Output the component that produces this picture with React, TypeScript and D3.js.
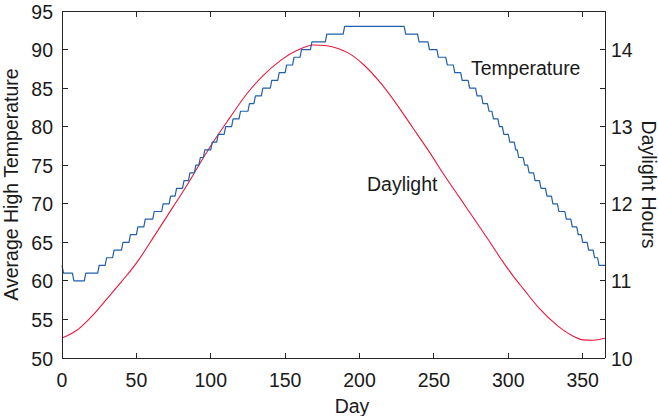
import React, { useEffect } from "react";
import * as d3 from "d3";

// ---- data ----
const tempStartDays = [
  0, 1, 8, 16, 25, 30, 35, 41, 46, 51, 56, 62, 68, 73, 77, 82, 86, 90, 93, 96,
  101, 105, 110, 115, 120, 126, 130, 135, 141, 146, 151, 156, 161, 168, 178, 190,
  231, 240, 247, 253, 259, 264, 269, 274, 279, 283, 287, 290, 294, 297, 301, 305,
  307, 311, 314, 318, 322, 326, 330, 334, 339, 343, 347, 350, 354, 358, 361,
];
const tempValues = [
  62, 61, 60, 61, 62, 63, 64, 65, 66, 67, 68, 69, 70, 71, 72, 73, 74, 75, 76, 77,
  78, 79, 80, 81, 82, 83, 84, 85, 86, 87, 88, 89, 90, 91, 92, 93,
  92, 91, 90, 89, 88, 87, 86, 85, 84, 83, 82, 81, 80, 79, 78, 77,
  76, 75, 74, 73, 72, 71, 70, 69, 68, 67, 66, 65, 64, 63, 62,
];
const lastDay = 365;

const daylightDays = [
  0, 10, 20, 29, 40, 50, 62, 74, 84, 92, 102, 113, 124, 135, 147, 158, 169, 178,
  186, 192, 203, 214, 225, 236, 247, 257, 268, 274, 286, 297, 305, 310, 321, 333,
  344, 350, 357, 365,
];
const daylightHours = [
  10.26, 10.36, 10.54, 10.74, 10.99, 11.23, 11.58, 11.94, 12.24, 12.5, 12.81,
  13.12, 13.42, 13.66, 13.86, 13.99, 14.06, 14.05, 14.01, 13.96, 13.8, 13.57,
  13.29, 12.98, 12.67, 12.37, 12.06, 11.89, 11.55, 11.23, 11.02, 10.9, 10.64,
  10.42, 10.28, 10.235, 10.23, 10.255,
];

const xTicks = [0, 50, 100, 150, 200, 250, 300, 350];
const leftTicks = [50, 55, 60, 65, 70, 75, 80, 85, 90, 95];
const rightTicks = [10, 10.5, 11, 11.5, 12, 12.5, 13, 13.5, 14, 14.5];
const rightLabels = [10, 11, 12, 13, 14];

const W = 658;
const H = 416;
const L = 62;
const R = 605;
const T = 11;
const B = 358;

const FONT = "'Liberation Sans', Arial, Helvetica, sans-serif";
const AX = "#262626";
const BLUE = "#1f5fab";
const RED = "#e8173d";

export default function App() {
  useEffect(() => {
    document.body.style.margin = "0";
  }, []);

  const x = d3.scaleLinear().domain([0, 365]).range([L, R]);
  const yL = d3.scaleLinear().domain([50, 95]).range([B, T]);
  const yR = d3.scaleLinear().domain([10, 14.5]).range([B, T]);

  // temperature: daily integer data, constant runs with 1-day risers
  const tempPts: [number, number][] = [];
  tempStartDays.forEach((s, i) => {
    const end = i < tempStartDays.length - 1 ? tempStartDays[i + 1] - 1 : lastDay;
    tempPts.push([s, tempValues[i]]);
    if (end > s) tempPts.push([end, tempValues[i]]);
  });
  const tempLine = d3
    .line<[number, number]>()
    .x((d) => x(d[0]))
    .y((d) => yL(d[1]));

  const dayPts: [number, number][] = daylightDays.map((d, i) => [d, daylightHours[i]]);
  const dayLine = d3
    .line<[number, number]>()
    .x((d) => x(d[0]))
    .y((d) => yR(d[1]))
    .curve(d3.curveMonotoneX);

  const tl = 5.5;
  const fs = 19.5;

  return (
    <svg
      width={W}
      height={H}
      viewBox={`0 0 ${W} ${H}`}
      style={{ display: "block", position: "absolute", left: 0, top: 0, background: "#fff" }}
      fontFamily={FONT}
    >
      <rect x={0} y={0} width={W} height={H} fill="#fff" />
      {/* data */}
      <path d={dayLine(dayPts) || ""} fill="none" stroke={RED} strokeWidth={1.1} />
      <path d={tempLine(tempPts) || ""} fill="none" stroke={BLUE} strokeWidth={1.2} strokeLinejoin="round" />

      {/* axes box */}
      <g stroke={AX} strokeWidth={1} shapeRendering="crispEdges" fill="none">
        <line x1={L} x2={R} y1={B} y2={B} />
        <line x1={L} x2={R} y1={T} y2={T} />
        <line x1={L} x2={L} y1={T} y2={B} />
        <line x1={R} x2={R} y1={T} y2={B} />
        {xTicks.map((t) => (
          <g key={"xt" + t}>
            <line x1={x(t)} x2={x(t)} y1={B} y2={B - tl} />
            <line x1={x(t)} x2={x(t)} y1={T} y2={T + tl} />
          </g>
        ))}
        {leftTicks.map((t) => (
          <line key={"lt" + t} x1={L} x2={L + tl} y1={yL(t)} y2={yL(t)} />
        ))}
        {rightTicks.map((t) => (
          <line key={"rt" + t} x1={R} x2={R - tl} y1={yR(t)} y2={yR(t)} />
        ))}
      </g>

      {/* tick labels */}
      <g fill="#1a1a1a" fontSize={fs}>
        {xTicks.map((t) => (
          <text key={"xl" + t} x={x(t)} y={387} textAnchor="middle">
            {t}
          </text>
        ))}
        {leftTicks.map((t) => (
          <text key={"ll" + t} x={53} y={yL(t) + 7.5} textAnchor="end">
            {t}
          </text>
        ))}
        {rightLabels.map((t) => (
          <text key={"rl" + t} x={611} y={yR(t) + 7.5} textAnchor="start">
            {t}
          </text>
        ))}
      </g>

      {/* axis labels */}
      <g fill="#1a1a1a" fontSize={fs}>
        <text x={352} y={413} textAnchor="middle">
          Day
        </text>
        <text transform={`translate(17.5, ${(T + B) / 2}) rotate(-90)`} textAnchor="middle">
          Average High Temperature
        </text>
        <text transform={`translate(641.5, ${(T + B) / 2}) rotate(90)`} textAnchor="middle">
          Daylight Hours
        </text>
        <text x={471} y={75}>
          Temperature
        </text>
        <text x={367} y={191}>
          Daylight
        </text>
      </g>
    </svg>
  );
}
